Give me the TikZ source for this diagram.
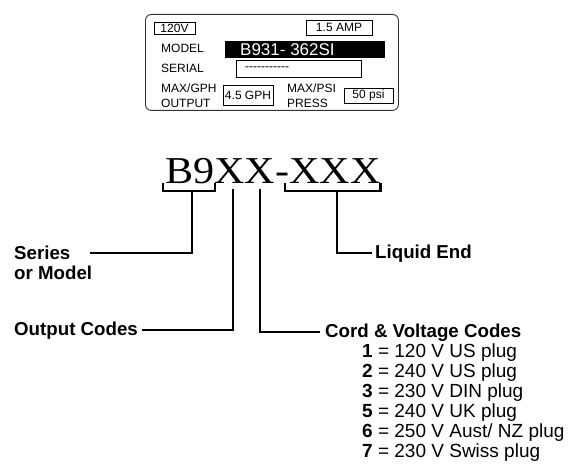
\documentclass[tikz,border=0pt]{standalone}
\usepackage{fontspec}
\setmainfont{Liberation Sans}
\newfontfamily\plainfont{Liberation Sans}
\newfontfamily\codefont{Liberation Serif}
\begin{document}
\begin{tikzpicture}[x=1pt,y=-1pt]
\useasboundingbox (0,0) rectangle (569,465);
\tikzset{
 plate/.style={draw=black!80, line width=0.9pt, rounded corners=6pt, inner sep=0pt},
 field/.style={draw, line width=0.8pt, inner sep=0pt, font=\fontsize{12}{13}\selectfont},
 lbl/.style={anchor=west, inner sep=0pt, font=\fontsize{12}{15}\selectfont, align=left},
 conn/.style={line width=2.2pt},
 bracketline/.style={line width=2.2pt},
 big/.style={anchor=base west, inner sep=0pt, font=\fontsize{18.7}{21}\selectfont\bfseries},
 codeitem/.style={anchor=base west, inner sep=0pt, font=\fontsize{19}{20}\selectfont},
}
% label plate
\node[plate, minimum width=253, minimum height=96, anchor=north west] (plate) at (145,14) {};
\node[field, minimum width=41, minimum height=12] (volt) at (174.5,28) {120V};
\node[field, minimum width=66, minimum height=15] (amp) at (339,27.5) {1.5 AMP};
\node[lbl] (modellbl) at (161,48.5) {MODEL};
\node[fill=black, inner sep=0pt, minimum width=160, minimum height=17] (modelbox) at (305,49.5) {};
\node[anchor=west, inner sep=0pt, text=white, font=\fontsize{17}{18}\selectfont] (modelno) at (240,49.5) {B931- 362SI};
\node[lbl] (seriallbl) at (161,68.5) {SERIAL};
\node[field, minimum width=125, minimum height=17] (serialbox) at (298.5,68.5) {};
\node[anchor=west, inner sep=0pt, font=\plainfont\fontsize{12}{13}\selectfont] (serialno) at (245,69) {-----------};
\node[lbl] (gphlbl) at (161,95.5) {MAX/GPH\\OUTPUT};
\node[field, minimum width=50, minimum height=20] (gph) at (248,95) {4.5 GPH};
\node[lbl] (psilbl) at (287,95.5) {MAX/PSI\\PRESS};
\node[field, minimum width=49, minimum height=15] (psi) at (368.5,95.5) {50 psi};

% model code
\node[anchor=base west, inner sep=0pt, font=\codefont\fontsize{38}{40}\selectfont] (code) at (165,183) {\scalebox{1.11}[1]{B9XX-XXX}};
\draw[bracketline] (163,183) |- (215,191) -- (215,183);
\draw[bracketline] (285,183) |- (380.5,191) -- (380.5,183);
\coordinate (b1) at (192,190);
\coordinate (b2) at (233,189);
\coordinate (b3) at (260,189);
\coordinate (b4) at (337,190);

% labels
\node[big] (series) at (14,259.5) {Series};
\node[big] (model) at (14,279.5) {or Model};
\node[big] (output) at (14,335.5) {Output Codes};
\node[big] (liquid) at (375,258.5) {Liquid End};
\node[big] (cord) at (325,337.5) {Cord \& Voltage Codes};
\coordinate (seriesend) at (90,253);
\coordinate (outputend) at (142,330);
\coordinate (liquidend) at (372,253);
\coordinate (cordend) at (320,332);

\draw[conn] (b1) |- (seriesend);
\draw[conn] (b2) |- (outputend);
\draw[conn] (b3) |- (cordend);
\draw[conn] (b4) |- (liquidend);

% code list
\node[codeitem] (c1) at (362,357.5) {\textbf{1} = 120 V US plug};
\node[codeitem] (c2) at (362,377.5) {\textbf{2} = 240 V US plug};
\node[codeitem] (c3) at (362,397.5) {\textbf{3} = 230 V DIN plug};
\node[codeitem] (c5) at (362,417.5) {\textbf{5} = 240 V UK plug};
\node[codeitem] (c6) at (362,437.5) {\textbf{6} = 250 V Aust/ NZ plug};
\node[codeitem] (c7) at (362,457.5) {\textbf{7} = 230 V Swiss plug};
\end{tikzpicture}
\end{document}
